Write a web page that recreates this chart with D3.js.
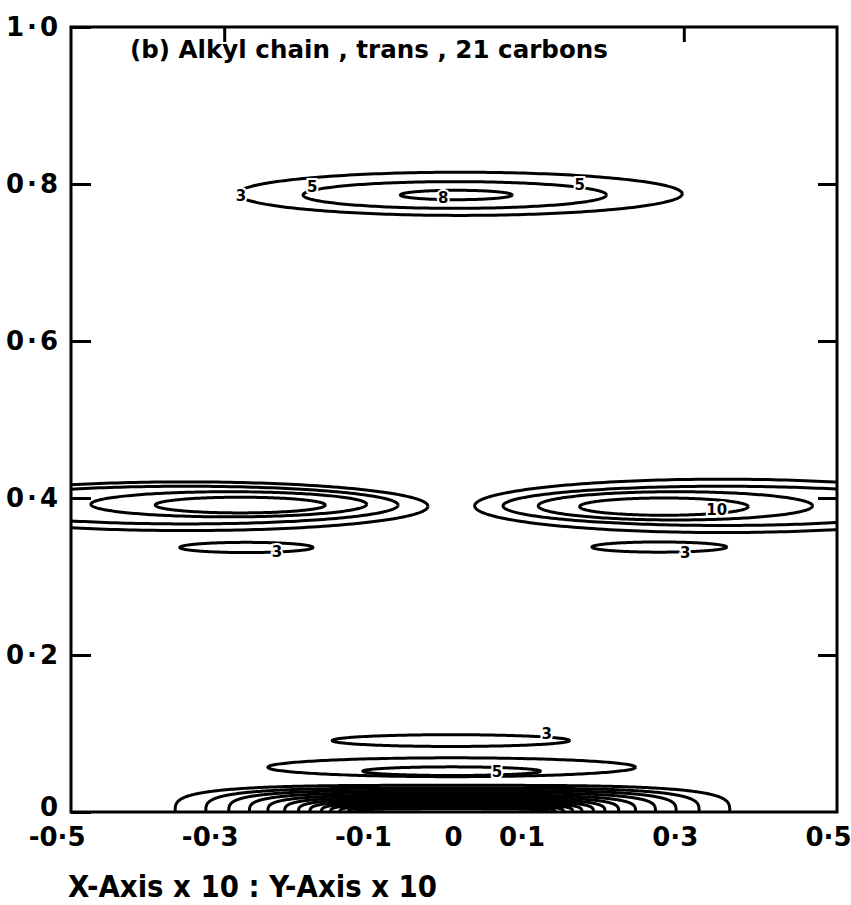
<!DOCTYPE html>
<html>
<head>
<meta charset="utf-8">
<script src="https://cdn.jsdelivr.net/npm/d3@7"></script>
<style>
  html, body { margin: 0; padding: 0; background: #fff; }
  svg { display: block; }
  text { font-family: "DejaVu Sans", sans-serif; font-weight: bold; fill: #000; }
</style>
</head>
<body>
<svg id="chart" width="851" height="905"></svg>
<script>
// ---------------- data (data units: x in [-0.5,0.5], y in [0,1]) ----------------
const title = "(b)  Alkyl  chain , trans , 21 carbons";
const caption = "X-Axis x 10  :  Y-Axis x 10";
const xTickValues = [-0.5, -0.3, -0.1, 0, 0.1, 0.3, 0.5];
const xTickLabels = ["-0·5", "-0·3", "-0·1", "0", "0·1", "0·3", "0·5"];
const yTickValues = [0, 0.2, 0.4, 0.6, 0.8, 1.0];
const yTickLabels = ["0", "0·2", "0·4", "0·6", "0·8", "1·0"];
const topTickValues = [-0.3, 0.3];

// closed contour rings: [cx, cy, rx, ry]
const topRings = [
  [0.008, 0.7875, 0.290, 0.0275],
  [0.001, 0.786, 0.198, 0.017],
  [0.003, 0.786, 0.073, 0.006]
];
const leftRings = [
  [-0.35, 0.3895, 0.316, 0.031],
  [-0.35, 0.391, 0.277, 0.024],
  [-0.294, 0.392, 0.180, 0.016],
  [-0.279, 0.391, 0.111, 0.010],
  [-0.271, 0.337, 0.087, 0.0065]
];
const rightRings = [
  [0.35, 0.390, 0.323, 0.034],
  [0.35, 0.390, 0.286, 0.025],
  [0.289, 0.390, 0.179, 0.018],
  [0.274, 0.389, 0.110, 0.011],
  [0.268, 0.3375, 0.088, 0.0065]
];
const lowRings = [
  [-0.004, 0.091, 0.155, 0.0075],
  [-0.003, 0.057, 0.240, 0.012],
  [-0.003, 0.052, 0.116, 0.0055]
];
// half rings sitting on y = 0: [cx, rx, height]
const baseRings = [
  [-0.002, 0.362, 0.034],
  [-0.002, 0.322, 0.0305],
  [-0.002, 0.292, 0.0275],
  [-0.002, 0.265, 0.0245],
  [-0.003, 0.240, 0.0215],
  [-0.003, 0.218, 0.019],
  [-0.003, 0.200, 0.0165],
  [-0.003, 0.185, 0.014],
  [-0.003, 0.170, 0.012],
  [-0.003, 0.158, 0.010],
  [-0.003, 0.146, 0.008],
  [-0.003, 0.135, 0.006],
  [-0.003, 0.125, 0.004]
];
// contour level labels: [x, y, text]
const levelLabels = [
  [-0.278, 0.785, "3"],
  [-0.185, 0.797, "5"],
  [0.164, 0.799, "5"],
  [-0.014, 0.783, "8"],
  [-0.231, 0.332, "3"],
  [0.302, 0.330, "3"],
  [0.343, 0.385, "10"],
  [0.121, 0.100, "3"],
  [0.056, 0.051, "5"]
];

// ---------------- layout ----------------
const svg = d3.select("#chart");
const L = 71, R = 837, T = 27, B = 812;
const x = d3.scaleLinear().domain([-0.5, 0.5]).range([L, R]);
const y = d3.scaleLinear().domain([0, 1]).range([B, T]);

svg.append("rect").attr("width", 851).attr("height", 905).attr("fill", "#fff");

svg.append("defs").append("clipPath").attr("id", "plotClip")
  .append("rect").attr("x", L).attr("y", T).attr("width", R - L).attr("height", B - T);

const line = d3.line().x(d => x(d[0])).y(d => y(d[1])).curve(d3.curveLinear);

function superPoints(cx, cy, rx, ry, n, t0, t1, steps) {
  const pts = [];
  for (let i = 0; i <= steps; i++) {
    const t = t0 + (t1 - t0) * i / steps;
    const c = Math.cos(t), s = Math.sin(t);
    pts.push([cx + rx * Math.sign(c) * Math.pow(Math.abs(c), 2 / n),
              cy + ry * Math.sign(s) * Math.pow(Math.abs(s), 2 / n)]);
  }
  return pts;
}

const g = svg.append("g").attr("clip-path", "url(#plotClip)")
  .attr("fill", "none").attr("stroke", "#000").attr("stroke-width", 3)
  .attr("stroke-linejoin", "round");

function drawRings(rings, n) {
  g.selectAll(null).data(rings).enter().append("path")
    .attr("d", r => line(superPoints(r[0], r[1], r[2], r[3], n, 0, 2 * Math.PI, 240)));
}
drawRings(topRings, 2);
drawRings(leftRings, 2);
drawRings(rightRings, 2);
drawRings(lowRings, 2);

g.selectAll(null).data(baseRings).enter().append("path")
  .attr("stroke-width", 3)
  .attr("d", r => line(superPoints(r[0], 0, r[1], r[2], 3.6, 0, Math.PI, 300)));

// level labels with white halo that breaks the contour
svg.selectAll(null).data(levelLabels).enter().append("text")
  .attr("x", d => x(d[0])).attr("y", d => y(d[1]))
  .attr("dy", "0.35em")
  .attr("text-anchor", "middle")
  .attr("font-size", 15)
  .attr("stroke", "#fff").attr("stroke-width", 4).attr("paint-order", "stroke")
  .text(d => d[2]);

// ---------------- axes ----------------
const axisStyle = sel => {
  sel.select(".domain").remove();
  sel.selectAll("line").attr("stroke", "#000").attr("stroke-width", 3);
  sel.selectAll("text").attr("font-family", "DejaVu Sans, sans-serif")
    .attr("font-weight", "bold").attr("fill", "#000");
};

// frame
svg.append("rect").attr("x", L).attr("y", T).attr("width", R - L).attr("height", B - T)
  .attr("fill", "none").attr("stroke", "#000").attr("stroke-width", 3);

// left axis with inward ticks + labels
const yl = svg.append("g").attr("transform", `translate(${L},0)`)
  .call(d3.axisLeft(y).tickValues(yTickValues).tickSizeInner(-20).tickSizeOuter(0)
    .tickPadding(10).tickFormat((d, i) => yTickLabels[i]));
axisStyle(yl);
yl.selectAll("text").attr("font-size", 26).attr("letter-spacing", 3)
  .attr("dy", d => d === 0 ? "0.15em" : "0.32em");

// right axis inward ticks
const yr = svg.append("g").attr("transform", `translate(${R},0)`)
  .call(d3.axisRight(y).tickValues(yTickValues.filter(v => v > 0 && v < 1))
    .tickSizeInner(-19).tickSizeOuter(0).tickFormat(""));
axisStyle(yr);

// top axis inward ticks
const xt = svg.append("g").attr("transform", `translate(0,${T})`)
  .call(d3.axisTop(x).tickValues(topTickValues).tickSizeInner(-15).tickSizeOuter(0).tickFormat(""));
axisStyle(xt);

// bottom axis labels
const xb = svg.append("g").attr("transform", `translate(0,${B})`)
  .call(d3.axisBottom(x).tickValues(xTickValues).tickSize(0).tickPadding(16)
    .tickFormat((d, i) => xTickLabels[i]));
axisStyle(xb);
xb.selectAll("line").remove();
xb.selectAll("text").attr("font-size", 26)
  .attr("text-anchor", d => d === 0 ? "middle" : "end")
  .attr("x", d => d === 0 ? -1 : 14);

// title
svg.append("text").attr("x", x(-0.423)).attr("y", 58)
  .attr("font-size", 25).attr("textLength", 478).attr("lengthAdjust", "spacingAndGlyphs")
  .text(title);

// caption
svg.append("text").attr("x", 68).attr("y", 897)
  .attr("font-size", 30).attr("textLength", 369).attr("lengthAdjust", "spacingAndGlyphs")
  .text(caption);
</script>
</body>
</html>
